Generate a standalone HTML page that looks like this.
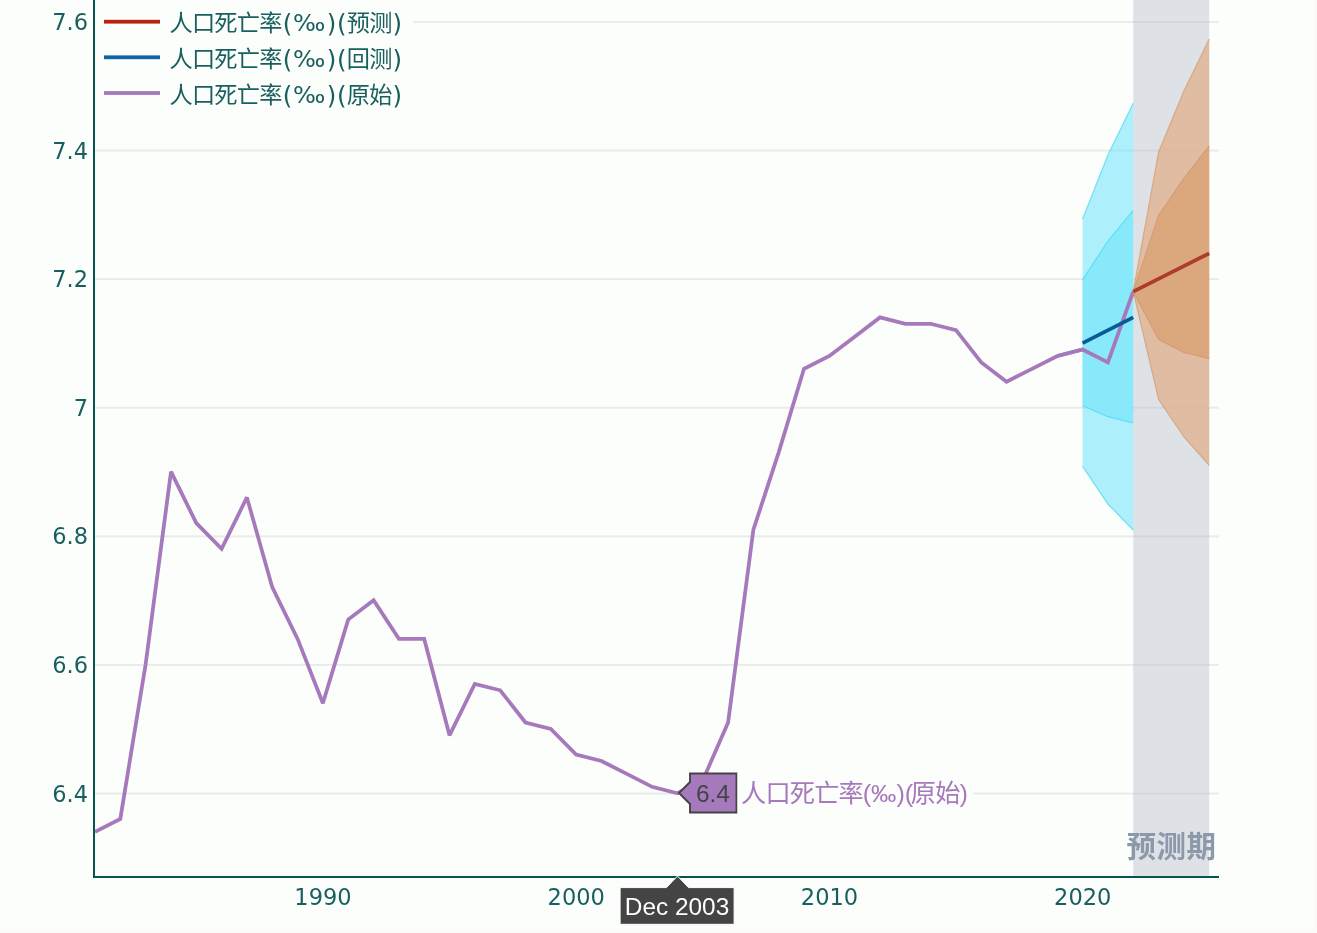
<!DOCTYPE html>
<html lang="zh-CN"><head><meta charset="utf-8"><title>人口死亡率(‰) 预测</title>
<style>html,body{margin:0;padding:0;background:#fcfefb;overflow:hidden}svg{display:block}.t{font-family:"DejaVu Sans","Noto Sans CJK SC",sans-serif;font-size:22.5px;fill:#1a5f5f}.a{font-family:"Liberation Sans","Noto Sans CJK SC",sans-serif}</style></head><body>
<svg width="1317" height="933" viewBox="0 0 1317 933">
<rect x="0" y="0" width="1317" height="933" fill="#fcfefb"/>
<rect x="1314" y="0" width="3" height="933" fill="#fbfaf7"/><rect x="0" y="931" width="1317" height="2" fill="#fbfaf7"/>
<rect x="95" y="21.01" width="1124" height="1.88" fill="#e9ebe9"/>
<rect x="95" y="149.61" width="1124" height="1.88" fill="#e9ebe9"/>
<rect x="95" y="278.21" width="1124" height="1.88" fill="#e9ebe9"/>
<rect x="95" y="406.81" width="1124" height="1.88" fill="#e9ebe9"/>
<rect x="95" y="535.41" width="1124" height="1.88" fill="#e9ebe9"/>
<rect x="95" y="664.01" width="1124" height="1.88" fill="#e9ebe9"/>
<rect x="95" y="792.61" width="1124" height="1.88" fill="#e9ebe9"/>
<rect x="1133.2" y="0" width="76.0" height="876" fill="#dee2e7"/>
<rect x="1133.2" y="21.01" width="76.0" height="1.88" fill="#d3d7dd"/>
<rect x="1133.2" y="149.61" width="76.0" height="1.88" fill="#d3d7dd"/>
<rect x="1133.2" y="278.21" width="76.0" height="1.88" fill="#d3d7dd"/>
<rect x="1133.2" y="406.81" width="76.0" height="1.88" fill="#d3d7dd"/>
<rect x="1133.2" y="535.41" width="76.0" height="1.88" fill="#d3d7dd"/>
<rect x="1133.2" y="664.01" width="76.0" height="1.88" fill="#d3d7dd"/>
<rect x="1133.2" y="792.61" width="76.0" height="1.88" fill="#d3d7dd"/>
<polyline points="95.0,831.8 120.3,818.9 145.6,664.6 171.0,471.7 196.3,523.1 221.6,548.9 246.9,497.4 272.3,587.4 297.6,638.9 322.9,703.2 348.2,619.6 373.6,600.3 398.9,638.9 424.2,638.9 449.5,735.3 474.8,683.9 500.2,690.3 525.5,722.5 550.8,728.9 576.1,754.6 601.5,761.0 626.8,773.9 652.1,786.8 677.4,793.2 702.8,780.3 728.1,722.5 753.4,529.6 778.7,452.4 804.0,368.8 829.4,356.0 854.7,336.7 880.0,317.4 905.3,323.8 930.7,323.8 956.0,330.2 981.3,362.4 1006.6,381.7 1032.0,368.8 1057.3,356.0 1082.6,349.5 1107.9,362.4 1133.2,291.7" fill="none" stroke="#a678bc" stroke-width="3.75" stroke-linejoin="miter" stroke-miterlimit="2"/>
<polygon points="1082.6,219.0 1107.9,155.0 1133.2,103.2 1133.2,530.0 1107.9,504.0 1082.6,466.4" fill="#78e5fb" fill-opacity="0.6"/>
<polygon points="1082.6,279.8 1107.9,241.0 1133.2,210.4 1133.2,422.8 1107.9,416.7 1082.6,405.7" fill="#86e8fb" fill-opacity="0.96"/>
<polyline points="1082.6,219.0 1107.9,155.0 1133.2,103.2" fill="none" stroke="#4fd8f7" stroke-opacity="0.75" stroke-width="1.2"/>
<polyline points="1082.6,466.4 1107.9,504.0 1133.2,530.0" fill="none" stroke="#4fd8f7" stroke-opacity="0.75" stroke-width="1.2"/>
<polyline points="1082.6,279.8 1107.9,241.0 1133.2,210.4" fill="none" stroke="#4fd8f7" stroke-opacity="0.75" stroke-width="1.2"/>
<polyline points="1082.6,405.7 1107.9,416.7 1133.2,422.8" fill="none" stroke="#4fd8f7" stroke-opacity="0.75" stroke-width="1.2"/>
<polyline points="1057.3,356.0 1082.6,349.5 1107.9,362.4 1133.2,291.7" fill="none" stroke="#a678bc" stroke-width="3.75" stroke-linejoin="miter" stroke-miterlimit="2"/>
<line x1="1082.6" y1="343.1" x2="1133.2" y2="317.4" stroke="#085c95" stroke-width="3.75"/>
<polygon points="1133.2,291.7 1158.6,152.0 1183.9,91.0 1209.2,39.0 1209.2,465.4 1183.9,437.0 1158.6,399.5" fill="#e0b595" fill-opacity="0.85"/>
<polygon points="1133.2,291.7 1158.6,215.4 1183.9,178.0 1209.2,145.8 1209.2,358.7 1183.9,352.5 1158.6,339.5" fill="#dba77d" fill-opacity="0.96"/>
<polyline points="1133.2,291.7 1158.6,152.0 1183.9,91.0 1209.2,39.0" fill="none" stroke="#d2915f" stroke-opacity="0.6" stroke-width="1.2"/>
<polyline points="1133.2,291.7 1158.6,399.5 1183.9,437.0 1209.2,465.4" fill="none" stroke="#d2915f" stroke-opacity="0.6" stroke-width="1.2"/>
<polyline points="1133.2,291.7 1158.6,215.4 1183.9,178.0 1209.2,145.8" fill="none" stroke="#d2915f" stroke-opacity="0.6" stroke-width="1.2"/>
<polyline points="1133.2,291.7 1158.6,339.5 1183.9,352.5 1209.2,358.7" fill="none" stroke="#d2915f" stroke-opacity="0.6" stroke-width="1.2"/>
<line x1="1133.2" y1="291.7" x2="1209.2" y2="253.3" stroke="#ad3c2e" stroke-width="3.75"/>
<rect x="93" y="0" width="2" height="878" fill="#06554f"/>
<rect x="93" y="876" width="1126" height="2" fill="#06554f"/>
<text class="t" x="88" y="29.9" text-anchor="end">7.6</text>
<text class="t" x="88" y="158.5" text-anchor="end">7.4</text>
<text class="t" x="88" y="287.1" text-anchor="end">7.2</text>
<text class="t" x="88" y="415.7" text-anchor="end">7</text>
<text class="t" x="88" y="544.3" text-anchor="end">6.8</text>
<text class="t" x="88" y="672.9" text-anchor="end">6.6</text>
<text class="t" x="88" y="801.5" text-anchor="end">6.4</text>
<text class="t" x="323.0" y="904.5" text-anchor="middle">1990</text>
<text class="t" x="576.2" y="904.5" text-anchor="middle">2000</text>
<text class="t" x="829.5" y="904.5" text-anchor="middle">2010</text>
<text class="t" x="1082.7" y="904.5" text-anchor="middle">2020</text>
<rect x="95" y="0" width="318" height="114" fill="#fcfefb"/>
<rect x="104" y="19.8" width="56" height="3.8" fill="#ba2210"/>
<text class="t" y="31.4"><tspan x="169.4" style="font-size:23.2px;letter-spacing:-0.7px">人口死亡率</tspan><tspan x="292.9" textLength="32.4" lengthAdjust="spacingAndGlyphs">‰</tspan><tspan x="346.7" style="font-size:23.2px;letter-spacing:-0.7px">预测</tspan></text>
<text class="t" y="32.2" style="font-size:24.5px"><tspan x="282.8">(</tspan><tspan x="326.8">)</tspan><tspan x="337.1">(</tspan><tspan x="392.4">)</tspan></text>
<rect x="104" y="55.4" width="56" height="3.8" fill="#0a64a5"/>
<text class="t" y="67.0"><tspan x="169.4" style="font-size:23.2px;letter-spacing:-0.7px">人口死亡率</tspan><tspan x="292.9" textLength="32.4" lengthAdjust="spacingAndGlyphs">‰</tspan><tspan x="346.7" style="font-size:23.2px;letter-spacing:-0.7px">回测</tspan></text>
<text class="t" y="67.8" style="font-size:24.5px"><tspan x="282.8">(</tspan><tspan x="326.8">)</tspan><tspan x="337.1">(</tspan><tspan x="392.4">)</tspan></text>
<rect x="104" y="91.1" width="56" height="3.8" fill="#a678bc"/>
<text class="t" y="102.7"><tspan x="169.4" style="font-size:23.2px;letter-spacing:-0.7px">人口死亡率</tspan><tspan x="292.9" textLength="32.4" lengthAdjust="spacingAndGlyphs">‰</tspan><tspan x="346.7" style="font-size:23.2px;letter-spacing:-0.7px">原始</tspan></text>
<text class="t" y="103.5" style="font-size:24.5px"><tspan x="282.8">(</tspan><tspan x="326.8">)</tspan><tspan x="337.1">(</tspan><tspan x="392.4">)</tspan></text>
<text x="1126.5" y="857.0" letter-spacing="0.5" font-family="'Liberation Sans','Noto Sans CJK SC',sans-serif" font-weight="bold" font-size="29.5" fill="#8b99aa">预测期</text>
<path d="M679,793 L690,782 L690,773.5 L736.5,773.5 L736.5,812.5 L690,812.5 L690,804 Z" fill="#a678bc" stroke="#444" stroke-width="1.9"/>
<text class="a" x="696" y="801.8" font-size="24.4" fill="#444">6.4</text>
<rect x="737.5" y="773" width="235.5" height="40" fill="#fcfefb"/>
<text class="a" y="801.8" font-size="24.4" fill="#a678bc"><tspan x="741.0" style="font-size:25.2px;letter-spacing:-0.8px">人口死亡率</tspan><tspan x="862.7" textLength="50.6" lengthAdjust="spacingAndGlyphs">(‰)(</tspan><tspan x="910.8" style="font-size:25.2px;letter-spacing:-0.8px">原始</tspan><tspan x="959.7">)</tspan></text>
<path d="M677.5,876 L688.5,887.6 L734.1,887.6 L734.1,924.3 L620.1,924.3 L620.1,887.6 L666.5,887.6 Z" fill="#444" stroke="#fff" stroke-width="1"/>
<text class="a" x="677" y="914.5" text-anchor="middle" font-size="24.4" fill="#fff">Dec 2003</text>
</svg></body></html>
